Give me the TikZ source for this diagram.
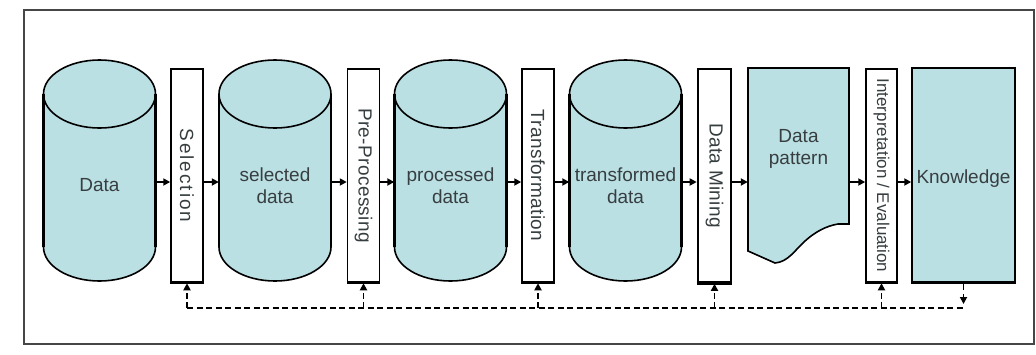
\documentclass[tikz,border=0pt]{standalone}
\usepackage{fontspec}
\setmainfont{Liberation Sans}
\usetikzlibrary{arrows.meta,calc}

\definecolor{dbfill}{RGB}{187,224,228}
\definecolor{txtgray}{RGB}{55,62,64}
\definecolor{framegray}{RGB}{70,70,70}

\tikzset{
  cylline/.style={draw=black, line width=1.6pt, fill=dbfill},
  cyltext/.style={font=\fontsize{19}{22}\selectfont, text=txtgray, align=center},
  anchorbox/.style={inner sep=0pt},
  stepbox/.style={draw=black, line width=1.5pt, fill=white, minimum width=32pt, minimum height=213pt, inner sep=0pt},
  steplabel/.style={font=\fontsize{19}{22}\selectfont\addfontfeatures{LetterSpace=2}, text=txtgray, rotate=-90},
  flow/.style={line width=2pt, -{Triangle[length=7pt,width=7pt]}},
  feedback/.style={line width=1.9pt, dash pattern=on 6pt off 3.5pt, -{Triangle[length=7pt,width=7pt]}},
  fbline/.style={line width=1.9pt, dash pattern=on 6pt off 3.5pt},
}

% cylinder: name, centre x, text
\newcommand\dbcyl[3]{%
  \filldraw[cylline] ({#2-56},94) -- ({#2-56},247)
     arc[start angle=180,end angle=360,x radius=56pt,y radius=34pt]
     -- ({#2+56},94)
     arc[start angle=0,end angle=180,x radius=56pt,y radius=34pt] -- cycle;
  \draw[line width=1.6pt] ({#2-56},94)
     arc[start angle=180,end angle=360,x radius=56pt,y radius=34pt];
  \draw[line width=2.4pt] ({#2-56},94) -- ({#2-56},247) ({#2+56},94) -- ({#2+56},247);
  \node[anchorbox, minimum width=112pt, minimum height=198pt] (#1) at (#2,182) {};
  \node[cyltext] at (#2,185.5) {#3};
}

% vertical step box: name, centre x, text
\newcommand\procstep[4][]{%
  \node[stepbox,#1] (#2) at (#3,175.5) {};
  \draw[line width=3pt] (#2.south west) -- (#2.south east);
  \node[steplabel] at (#2.center) {#4};
}

\begin{document}
\begin{tikzpicture}[x=1pt,y=-1pt]
  \useasboundingbox (0,0) rectangle (1036,354);
  \fill[white] (0,0) rectangle (1036,354);
  \draw[framegray, line width=2pt] (24,10) rectangle (1034,344);

  % data stores
  \dbcyl{data}{99.5}{Data}
  \dbcyl{sel}{275}{selected\\data}
  \dbcyl{proc}{450.5}{processed\\data}
  \dbcyl{trans}{625.5}{transformed\\data}

  % process steps
  \procstep{selection}{187}{\addfontfeatures{LetterSpace=10}Selection}
  \procstep{prep}{363.5}{Pre-Processing}
  \procstep{transf}{538}{Transformation}
  \procstep[line width=2.6pt, minimum width=33pt]{mining}{714.5}{Data Mining}
  \node[stepbox, minimum width=31pt] (interp) at (881.5,175.5) {};
  \draw[line width=3pt] (interp.south west) -- (interp.south east);
  \node[steplabel, font=\fontsize{17}{20}\selectfont] at (interp.center) {Interpretation / Evaluation};

  % data pattern document
  \filldraw[draw=black, line width=1.6pt, fill=dbfill]
    (748,68) -- (849,68) -- (849,224) -- (838,224)
    .. controls (826,226) and (815,232) .. (805,241)
    .. controls (795,250) and (788,262) .. (775,263)
    -- (748,251) -- cycle;
  \draw[line width=2.8pt] (849,68) -- (849,224);
  \node[anchorbox, minimum width=101pt, minimum height=228pt] (pattern) at (798.5,182) {};
  \node[cyltext] at (798.5,149) {Data\\pattern};

  % knowledge
  \node[draw=black, line width=1.5pt, fill=dbfill, minimum width=103pt, minimum height=214pt, inner sep=0pt] (know) at (963.5,175) {};
  \draw[line width=3pt] (know.south west) -- (know.south east);
  \node[cyltext] at (963.5,179) {Knowledge};

  % main flow
  \draw[flow] (data.east) -- (data.east -| selection.west);
  \draw[flow] (data.east -| selection.east) -- (sel.west);
  \draw[flow] (sel.east) -- (sel.east -| prep.west);
  \draw[flow] (sel.east -| prep.east) -- (proc.west);
  \draw[flow] (proc.east) -- (proc.east -| transf.west);
  \draw[flow] (proc.east -| transf.east) -- (trans.west);
  \draw[flow] (trans.east) -- (trans.east -| mining.west);
  \draw[flow] (trans.east -| mining.east) -- (pattern.west);
  \draw[flow] (pattern.east) -- (pattern.east -| interp.west);
  \draw[flow] (pattern.east -| interp.east) -- (know.west |- pattern.east);

  % feedback loop
  \coordinate (fb) at (0,308);
  \draw[feedback, shorten >=4pt] ([yshift=-1.5pt]know.south) -- (know.south |- fb);
  \draw[fbline] (selection.south |- fb) -- (know.south |- fb);
  \draw[feedback, shorten >=-1pt] (selection.south |- fb) -- ([yshift=-1.5pt]selection.south);
  \draw[feedback, shorten >=-1pt] (prep.south |- fb) -- ([yshift=-1.5pt]prep.south);
  \draw[feedback, shorten >=-1pt] (transf.south |- fb) -- ([yshift=-1.5pt]transf.south);
  \draw[feedback, shorten >=-1pt] (mining.south |- fb) -- ([yshift=-1.5pt]mining.south);
  \draw[feedback, shorten >=-1pt] (interp.south |- fb) -- ([yshift=-1.5pt]interp.south);
\end{tikzpicture}
\end{document}
